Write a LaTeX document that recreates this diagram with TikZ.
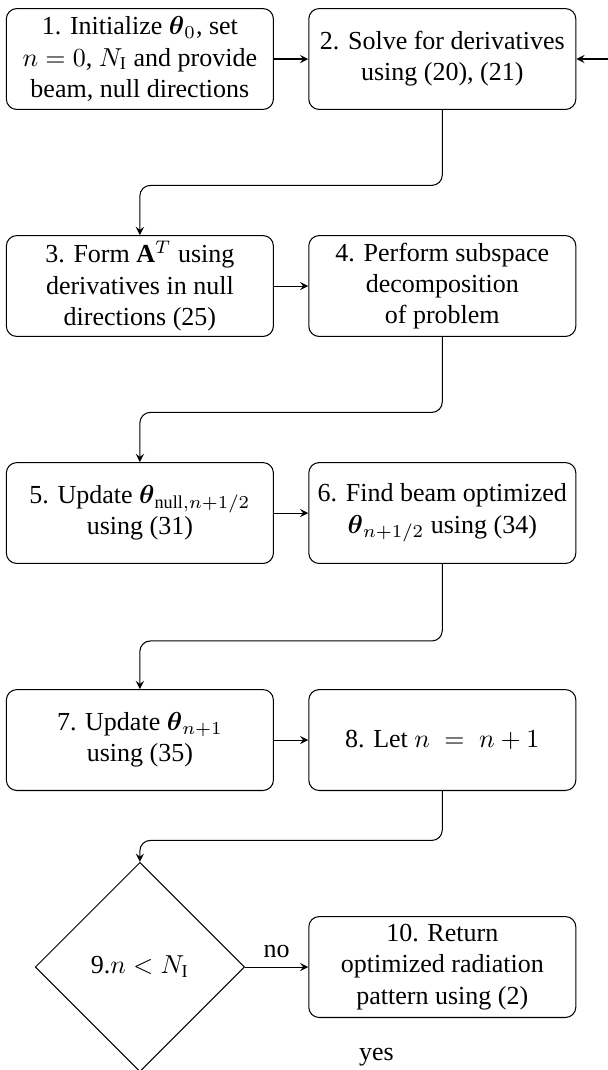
\documentclass[tikz,border=0pt]{standalone}
\usepackage{amsmath}
\usepackage{fontspec}
\setmainfont{Liberation Serif}
\usetikzlibrary{positioning,shapes.geometric}

\begin{document}
\begin{tikzpicture}[node distance=87.3pt and 116.3pt, on grid]
        \tikzstyle{process}=[draw, rounded corners, align=center, inner sep=2pt, minimum width=102.7pt, minimum height=38.8pt]
        \tikzstyle{decision}=[draw, diamond, aspect=1, inner sep=0pt, minimum width=80.5pt, minimum height=80.5pt]
        \tikzstyle{arrow}=[->, >=stealth]
        \useasboundingbox (-53.8pt,22.7pt) rectangle (180pt,-388.8pt);
        % boxes, row by row
        \node[process] (b1) {1. Initialize $\boldsymbol{\theta}_0$, set\\ $n=0$, $N_{\mathrm{I}}$ and provide\\ beam, null directions};
        \node[process, right=of b1] (b2) {2. Solve for derivatives\\ using (20), (21)};
        \node[process, below=of b1] (b3) {3. Form $\mathbf{A}^T$ using\\ derivatives in null\\ directions (25)};
        \node[process, right=of b3] (b4) {4. Perform subspace\\ decomposition\\ of problem};
        \node[process, below=of b3] (b5) {5. Update $\boldsymbol{\theta}_{\mathrm{null},n+1/2}$\\ using (31)};
        \node[process, right=of b5] (b6) {6. Find beam optimized\\ $\boldsymbol{\theta}_{n+1/2}$ using (34)};
        \node[process, below=of b5] (b7) {7. Update $\boldsymbol{\theta}_{n+1}$\\ using (35)};
        \node[process, right=of b7] (b8) {8. Let $n\;=\;n+1$};
        \node[decision, below=of b7] (d9) {9.$n<N_{\mathrm{I}}$};
        \node[process, right=of d9] (b10) {10. Return\\ optimized radiation\\ pattern using (2)};
        % connectors
        \draw[arrow] (b1) -- (b2);
        \draw[arrow, rounded corners] (b2.south) -- ++(0,-29pt) -| (b3.north);
        \draw[arrow] (b3) -- (b4);
        \draw[arrow, rounded corners] (b4.south) -- ++(0,-29pt) -| (b5.north);
        \draw[arrow] (b5) -- (b6);
        \draw[arrow, rounded corners] (b6.south) -- ++(0,-29.6pt) -| (b7.north);
        \draw[arrow] (b7) -- (b8);
        \draw[arrow, rounded corners] (b8.south) -- ++(0,-19pt) -| (d9.north);
        \draw[arrow] (d9) -- node[above] {no} (b10);
        \draw[arrow] (d9.south) |- node[above, pos=0.75] {yes} ++(182pt,-1pt) |- (b2.east);
    \end{tikzpicture}
\end{document}
